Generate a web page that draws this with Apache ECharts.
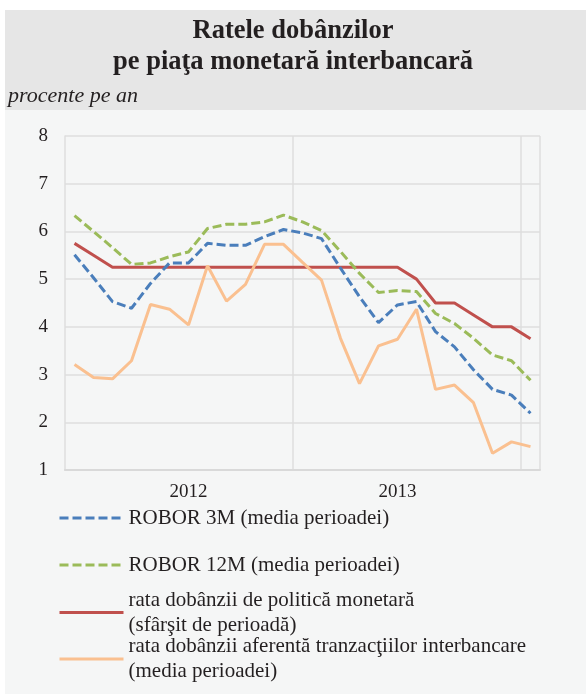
<!DOCTYPE html>
<html>
<head>
<meta charset="utf-8">
<title>Ratele dobânzilor</title>
<script src="https://cdn.jsdelivr.net/npm/echarts@6.0.0/dist/echarts.min.js"></script>
<style>
  html, body { margin: 0; padding: 0; background: #fff; }
  #rates { width: 586px; height: 694px; }
</style>
</head>
<body>
<div id="rates"></div>
<script>
// luni: ian. 2012 - ian. 2014
var months = ['2012-01', '2012-02', '2012-03', '2012-04', '2012-05', '2012-06',
  '2012-07', '2012-08', '2012-09', '2012-10', '2012-11', '2012-12',
  '2013-01', '2013-02', '2013-03', '2013-04', '2013-05', '2013-06',
  '2013-07', '2013-08', '2013-09', '2013-10', '2013-11', '2013-12', '2014-01'];
// eticheta anului sta sub luna din mijloc
var yearLabels = { 6: '2012', 17: '2013' };
var yearBreaks = [12, 24];

var robor3m = [5.51, 5.03, 4.53, 4.39, 4.91, 5.34, 5.34, 5.75, 5.71, 5.71, 5.89, 6.04,
  5.97, 5.85, 5.23, 4.63, 4.09, 4.46, 4.53, 3.90, 3.58, 3.10, 2.69, 2.57, 2.19];
var robor12m = [6.33, 6.00, 5.66, 5.31, 5.34, 5.47, 5.57, 6.06, 6.15, 6.15, 6.20, 6.34,
  6.20, 6.02, 5.58, 5.12, 4.72, 4.76, 4.74, 4.28, 4.07, 3.76, 3.41, 3.29, 2.88];
var policyRate = [5.75, 5.50, 5.25, 5.25, 5.25, 5.25, 5.25, 5.25, 5.25, 5.25, 5.25, 5.25,
  5.25, 5.25, 5.25, 5.25, 5.25, 5.25, 5.00, 4.50, 4.50, 4.25, 4.00, 4.00, 3.75];
var interbankRate = [3.21, 2.94, 2.91, 3.29, 4.47, 4.37, 4.04, 5.28, 4.54, 4.89, 5.73, 5.73,
  5.35, 4.98, 3.76, 2.81, 3.60, 3.74, 4.37, 2.69, 2.78, 2.41, 1.35, 1.59, 1.49];

var names = {
  r3m: 'ROBOR 3M (media perioadei)',
  r12m: 'ROBOR 12M (media perioadei)',
  policy: 'rata dobânzii de politică monetară\n(sfârşit de perioadă)',
  interbank: 'rata dobânzii aferentă tranzacţiilor interbancare\n(media perioadei)'
};

var serif = '"Liberation Serif", "Times New Roman", serif';
var ink = '#231f20';
var gridGray = '#dedede';

function legendAt(name, top, twoLines) {
  return {
    data: [name],
    left: 58,
    top: top,
    orient: 'vertical',
    padding: 0,
    itemWidth: 64,
    itemHeight: 14,
    itemGap: 0,
    // doar linia, fara cerculet
    itemStyle: { opacity: 0 },
    lineStyle: { width: 3 },
    textStyle: {
      fontFamily: serif,
      fontSize: 21,
      lineHeight: 25,
      color: ink,
      padding: twoLines ? [25, 0, 0, 0] : 0
    }
  };
}

function lineSeries(name, data, color, dash) {
  return {
    name: name,
    type: 'line',
    data: data,
    symbol: 'none',
    color: color,
    itemStyle: { color: color },
    lineStyle: { color: color, width: 3, type: dash || 'solid', cap: 'butt' },
    emphasis: { disabled: true }
  };
}

var myChart = echarts.init(document.getElementById('rates'));
var option = {
  backgroundColor: '#ffffff',
  animation: false,
  graphic: [
    { type: 'rect', z: -100, shape: { x: 5, y: 10, width: 581, height: 684 }, style: { fill: '#f5f6f6' } },
    { type: 'rect', z: -99, shape: { x: 5, y: 10, width: 581, height: 100 }, style: { fill: '#e6e6e6' } }
  ],
  title: [
    {
      text: 'Ratele dobânzilor\npe piaţa monetară interbancară',
      left: 'center',
      top: 16,
      padding: [0, 0, 0, 14],
      textStyle: { fontFamily: serif, fontSize: 26.5, fontWeight: 'bold', lineHeight: 31, color: ink }
    },
    {
      text: 'procente pe an',
      left: 8,
      top: 85,
      padding: 0,
      textStyle: { fontFamily: serif, fontSize: 22, fontStyle: 'italic', fontWeight: 'normal', lineHeight: 22, color: ink }
    }
  ],
  legend: [
    legendAt(names.r3m, 505.5, false),
    legendAt(names.r12m, 552.5, false),
    legendAt(names.policy, 575, true),
    legendAt(names.interbank, 621.5, true)
  ],
  grid: { left: 65, right: 46, top: 136, bottom: 224 },
  xAxis: {
    type: 'category',
    data: months,
    boundaryGap: true,
    axisTick: { show: false },
    axisLine: { show: true, lineStyle: { color: '#d9d9d9', width: 2 } },
    axisLabel: {
      interval: function (index) { return yearLabels[index] !== undefined; },
      formatter: function (value, index) { return yearLabels[index] || ''; },
      fontFamily: serif,
      fontSize: 19,
      color: ink,
      margin: 13
    },
    splitLine: {
      show: true,
      interval: function (index) { return yearBreaks.indexOf(index) >= 0; },
      lineStyle: { color: gridGray, width: 1.5 }
    }
  },
  yAxis: {
    type: 'value',
    min: 1,
    max: 8,
    interval: 1,
    axisLine: { show: true, lineStyle: { color: gridGray, width: 1.5 } },
    axisTick: { show: false },
    axisLabel: { fontFamily: serif, fontSize: 19, color: ink, margin: 17 },
    splitLine: { lineStyle: { color: gridGray, width: 1.5 } }
  },
  series: [
    lineSeries(names.policy, policyRate, '#c0504d'),
    lineSeries(names.interbank, interbankRate, '#fac090'),
    lineSeries(names.r3m, robor3m, '#4a7ebb', [9, 4]),
    lineSeries(names.r12m, robor12m, '#9bbb59', [9, 4])
  ]
};
myChart.setOption(option, true);
window.addEventListener('resize', function () {
  myChart.resize();
});
</script>
</body>
</html>
